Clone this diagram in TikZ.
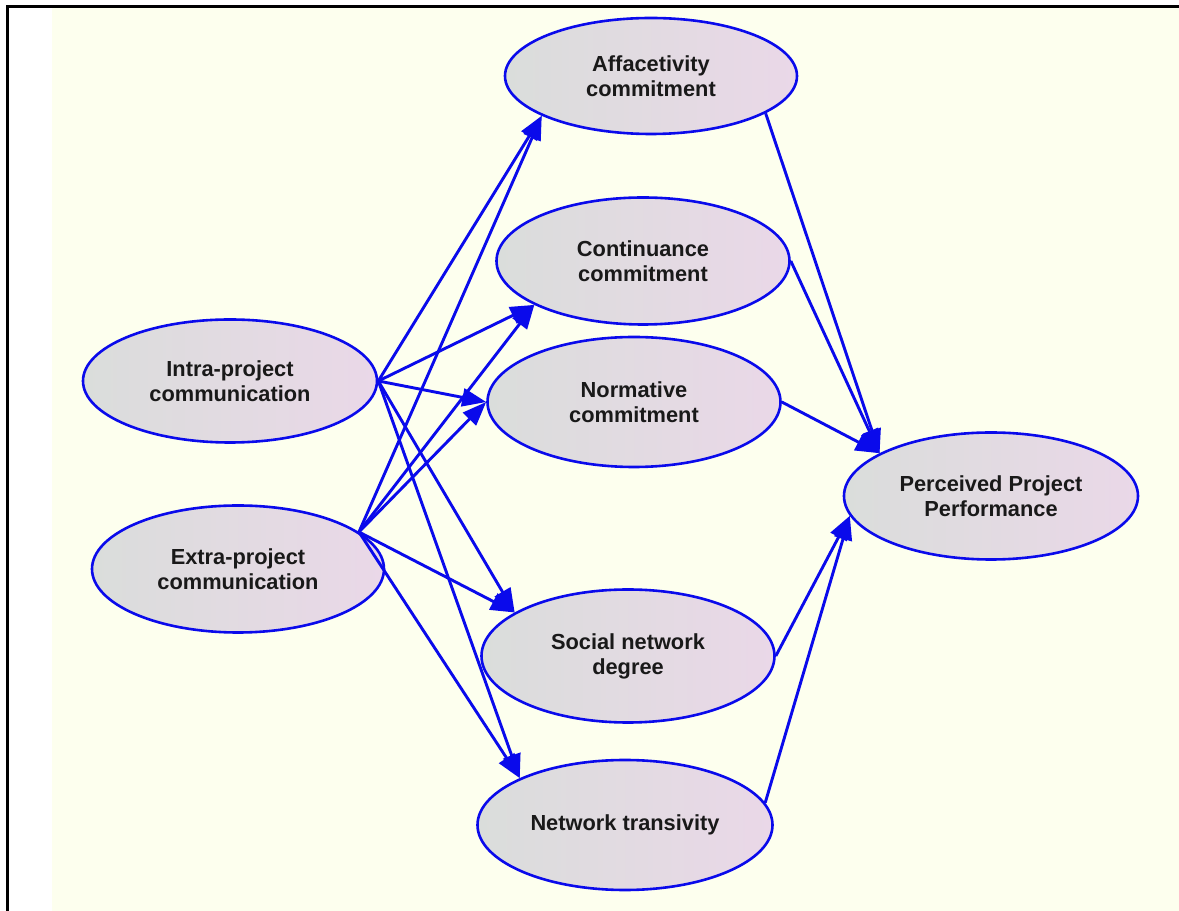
\documentclass[tikz,border=0pt]{standalone}
\usepackage{fontspec}
\setmainfont{Liberation Sans}
\usetikzlibrary{shapes.geometric,arrows.meta}
\definecolor{bgyellow}{RGB}{253,255,238}
\definecolor{edgeblue}{RGB}{10,10,235}
\definecolor{fillL}{RGB}{218,221,219}
\definecolor{fillR}{RGB}{234,216,232}
\definecolor{txt}{RGB}{25,25,25}
\tikzset{
  var/.style={ellipse, draw=edgeblue, line width=2.6pt, left color=fillL, right color=fillR,
    inner sep=0pt, align=center, text=txt, font=\bfseries\fontsize{21.8}{25}\selectfont},
  link/.style={draw=edgeblue, line width=2.9pt, -{Triangle[length=24pt,width=18pt]}}
}
\begin{document}
\begin{tikzpicture}[x=1pt,y=1pt]
\useasboundingbox (0,0) rectangle (1179,911);
\fill[white] (0,0) rectangle (1179,911);
\fill[bgyellow] (52,0) rectangle (1179,903);
\draw[line width=3pt] (7.8,0) -- (7.8,904) -- (1179,904);

\node[var, minimum width=292pt, minimum height=116pt] (aff) at (651,835) {Affacetivity\\commitment};
\node[var, minimum width=293pt, minimum height=127pt] (cont) at (643,650) {Continuance\\commitment};
\node[var, minimum width=293pt, minimum height=130pt] (norm) at (634,509) {Normative\\commitment};
\node[var, minimum width=294pt, minimum height=123pt] (intra) at (230,530) {Intra-project\\communication};
\node[var, minimum width=292pt, minimum height=127pt] (extra) at (238,342) {Extra-project\\communication};
\node[var, minimum width=293pt, minimum height=133pt] (social) at (628,255) {Social network\\degree};
\node[var, minimum width=295pt, minimum height=130pt] (net) at (625,86) {Network transivity};
\node[var, minimum width=294pt, minimum height=127pt] (perf) at (991,415) {Perceived Project\\Performance};

\draw[link] (intra.east) -- (aff.200);
\draw[link] (intra.east) -- (cont.202);
\draw[link] (intra.east) -- (norm.west);
\draw[link] (intra.east) -- (social.159);
\draw[link] (intra.east) -- (net.156);
\draw[link] (extra.17) -- (aff.200);
\draw[link] (extra.17) -- (cont.202);
\draw[link] (extra.17) -- (norm.west);
\draw[link] (extra.17) -- (social.159);
\draw[link] (extra.17) -- (net.156);

\draw[link] (aff.342) -- (perf.159);
\draw[link] (cont.east) -- (perf.159);
\draw[link] (norm.east) -- (perf.159);
\draw[link] (social.east) -- (perf.188);
\draw[link] (net.9) -- (perf.188);
\end{tikzpicture}
\end{document}
